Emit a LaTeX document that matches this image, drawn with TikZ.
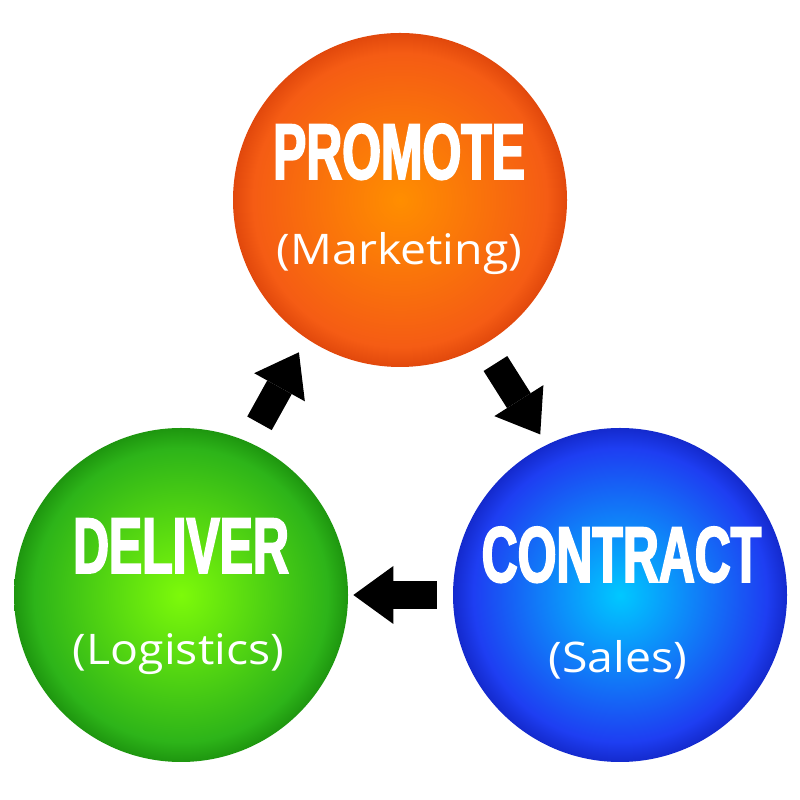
\documentclass[tikz,border=0pt]{standalone}
\usepackage{fontspec}
\usepackage{xcolor}
\usetikzlibrary{arrows.meta}

\newfontfamily\headfont{Liberation Sans}[FakeStretch=0.63, BoldFeatures={FakeBold=2.2}]
\newfontfamily\subfont{Open Sans}[FakeStretch=1.1]

\definecolor{promoteC}{RGB}{255,142,0}
\definecolor{promoteE}{RGB}{245,92,20}
\definecolor{promoteR}{RGB}{225,72,12}
\definecolor{deliverC}{RGB}{125,250,10}
\definecolor{deliverE}{RGB}{45,180,25}
\definecolor{deliverR}{RGB}{30,150,15}
\definecolor{contractC}{RGB}{0,200,255}
\definecolor{contractE}{RGB}{30,62,242}
\definecolor{contractR}{RGB}{20,42,205}

\pgfdeclareradialshading{promoteball}{\pgfpoint{0bp}{0bp}}{color(0bp)=(promoteC); color(22bp)=(promoteE); color(25bp)=(promoteR); color(50bp)=(promoteR)}
\pgfdeclareradialshading{deliverball}{\pgfpoint{0bp}{0bp}}{color(0bp)=(deliverC); color(22bp)=(deliverE); color(25bp)=(deliverR); color(50bp)=(deliverR)}
\pgfdeclareradialshading{contractball}{\pgfpoint{0bp}{0bp}}{color(0bp)=(contractC); color(22bp)=(contractE); color(25bp)=(contractR); color(50bp)=(contractR)}

\tikzset{
  ball/.style={circle, minimum size=6.68cm, inner sep=0pt, shade},
  head/.style={text=white, anchor=base, inner sep=0pt, font=\headfont\bfseries\fontsize{45}{45}\selectfont},
  sub/.style={text=white, anchor=base, inner sep=0pt, font=\subfont\fontsize{24}{24}\selectfont},
  flow/.style={line width=0.56cm, -{Triangle[length=0.8cm,width=1.16cm,line width=0pt]}}
}

\begin{document}
\begin{tikzpicture}
    \useasboundingbox (0,0) rectangle (16,16);
    % the three balls
    \node[ball, shading=promoteball] (promote) at (8.0,12.0) {};
    \node[ball, shading=deliverball] (deliver) at (3.62,4.10) {};
    \node[ball, shading=contractball] (contract) at (12.4,4.10) {};
    % texts
    \node[head] (promoteh) at (7.98,12.42) {PROMOTE};
    \node[sub] (promotes) at (7.99,10.70) {(Marketing)};
    \node[head] (deliverh) at (3.62,4.54) {DELIVER};
    \node[sub] (delivers) at (3.57,2.70) {(Logistics)};
    \node[head] (contracth) at (12.43,4.36) {CONTRACT};
    \node[sub] (contracts) at (12.36,2.54) {(Sales)};
    % cycle arrows
    \draw[flow, shorten <=0.43cm, shorten >=0.31cm] (deliver.66) -- (promote.236);
    \draw[flow, shorten <=0.44cm, shorten >=0.24cm] (promote.-60) -- (contract.116);
    \draw[flow, shorten <=0.32cm, shorten >=0.10cm] (contract.180) -- (deliver.0);
\end{tikzpicture}
\end{document}
